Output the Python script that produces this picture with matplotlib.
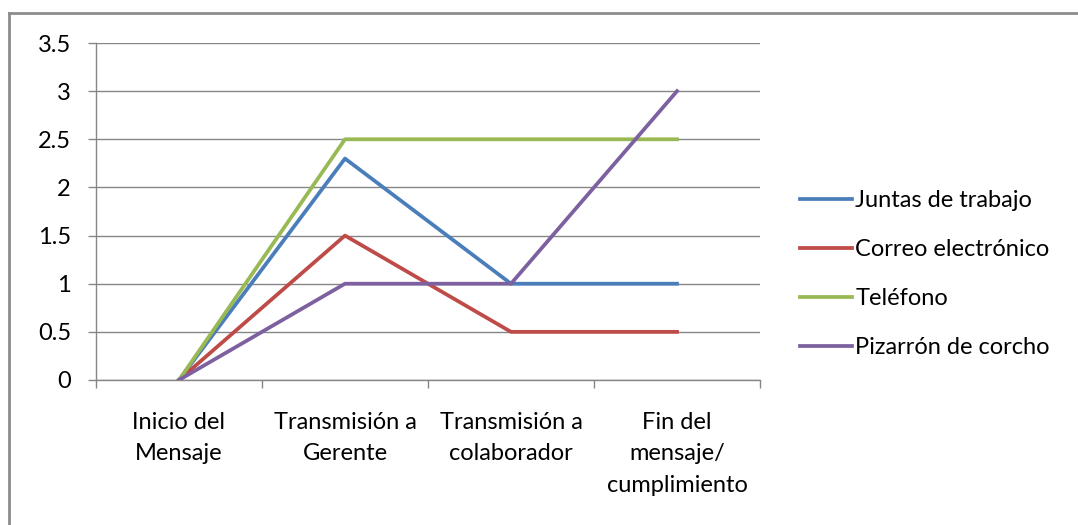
import matplotlib.pyplot as plt
from matplotlib.lines import Line2D
import numpy as np

categories = ["Inicio del\nMensaje", "Transmisión a\nGerente", "Transmisión a\ncolaborador",
              "Fin del\nmensaje/\ncumplimiento"]
juntas = [0, 2.3, 1, 1]
correo = [0, 1.5, 0.5, 0.5]
telefono = [0, 2.5, 2.5, 2.5]
pizarron = [0, 1, 1, 3]
y_ticks = [0, 0.5, 1, 1.5, 2, 2.5, 3, 3.5]
y_labels = ["0", "0.5", "1", "1.5", "2", "2.5", "3", "3.5"]

plt.rcParams["font.family"] = ["Lato", "DejaVu Sans"]
fs = 17

fig = plt.figure(figsize=(10.78, 5.25), dpi=100)
W, H = 1078, 525
ax = fig.add_axes([96 / W, 1 - 380 / H, (760 - 96) / W, (380 - 43) / H])

x = np.arange(len(categories))
lw = 2.7
ax.plot(x, juntas, color="#4A7EBB", lw=lw, label="Juntas de trabajo", zorder=3)
ax.plot(x, correo, color="#BE4B48", lw=lw, label="Correo electrónico", zorder=3)
ax.plot(x, telefono, color="#98B954", lw=lw, label="Teléfono", zorder=3)
ax.plot(x, pizarron, color="#7D60A0", lw=lw, label="Pizarrón de corcho", zorder=4)

ax.set_xlim(-0.5, len(categories) - 0.5)
ax.set_ylim(0, 3.5)
ax.set_yticks(y_ticks)
ax.set_yticklabels(y_labels, fontsize=fs)
ax.set_xticks(x)
ax.set_xticklabels(categories, fontsize=fs, linespacing=1.62)
ax.set_xticks(np.arange(-0.5, len(categories)), minor=True)
ax.tick_params(axis="x", which="major", length=0, pad=23)
ax.tick_params(axis="x", which="minor", length=6, color="#868686", width=1)
ax.tick_params(axis="y", length=6, color="#868686", width=1, pad=12)

ax.grid(axis="y", color="#868686", lw=1)
ax.set_axisbelow(True)
for s in ["top", "right"]:
    ax.spines[s].set_visible(False)
for s in ["left", "bottom"]:
    ax.spines[s].set_color("#868686")
    ax.spines[s].set_linewidth(1)

ax.legend(loc="center left", bbox_to_anchor=(800 / W, 1 - 274 / H), bbox_transform=fig.transFigure,
          frameon=False, fontsize=fs, handlelength=2.2, handletextpad=0.15, labelspacing=1.18,
          borderaxespad=0, borderpad=0)

# outer frame (top and left edges only)
fig.add_artist(Line2D([9 / W, 1], [1 - 13 / H, 1 - 13 / H], color="#8c8c8c", lw=2,
                      transform=fig.transFigure))
fig.add_artist(Line2D([9 / W, 9 / W], [0, 1 - 13 / H], color="#8c8c8c", lw=2,
                      transform=fig.transFigure))

fig.savefig("out.png", dpi=100)
